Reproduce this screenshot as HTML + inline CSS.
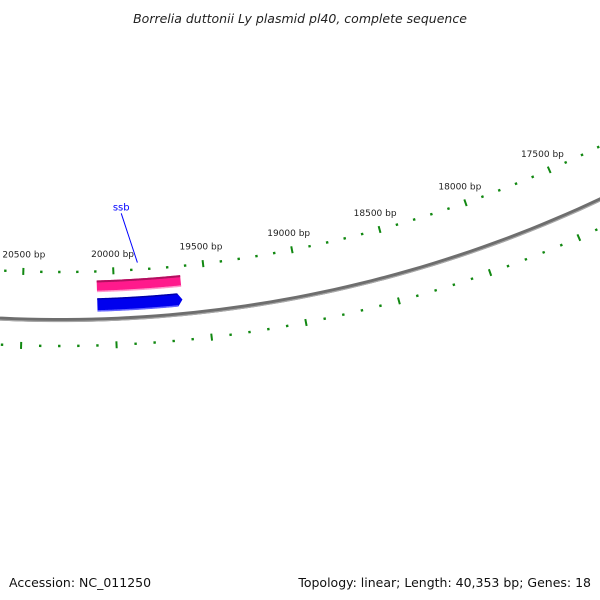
<!DOCTYPE html>
<html><head><meta charset="utf-8"><style>
body{margin:0;background:#fff}
svg{display:block}
text{font-family:"DejaVu Sans","Liberation Sans",sans-serif}
</style></head><body>
<svg id="map" width="600" height="600" viewBox="0 0 600 600" xmlns="http://www.w3.org/2000/svg">
<text x="300" y="23" text-anchor="middle" font-size="12.5" font-style="italic" fill="#222">Borrelia duttonii Ly plasmid pl40, complete sequence</text>
<g id="ticks"></g>
<g id="backbone"></g>
<g id="genes"></g>
<text x="9" y="587" font-size="12.5" fill="#111">Accession: NC_011250</text>
<text x="591" y="587" text-anchor="end" font-size="12.5" fill="#111">Topology: linear; Length: 40,353 bp; Genes: 18</text>
</svg>
<script>
const majorTicks=[21000,20500,20000,19500,19000,18500,18000,17500,17000];
const majorLabels=["21000 bp","20500 bp","20000 bp","19500 bp","19000 bp","18500 bp","18000 bp","17500 bp","17000 bp"];
const geneNames=["ssb"];
const geneStarts=[19633];
const geneEnds=[20094];
const NS="http://www.w3.org/2000/svg";
const cx=60,cy=-950;
function ang(bp){return (2.5+(20000-bp)*0.00844)*Math.PI/180;}
function pt(bp,r){const a=ang(bp);return [cx+r*Math.sin(a),cy+r*Math.cos(a)];}
function mk(tag,attrs,parent){const e=document.createElementNS(NS,tag);for(const k in attrs)e.setAttribute(k,attrs[k]);parent.appendChild(e);return e;}
const tg=document.getElementById('ticks');
for(let bp=21300;bp>=16800;bp-=100){
  const major=bp%500===0;
  [[1222,'outer'],[1296,'inner']].forEach(([r,ring])=>{
    const h=major?3.5:1.2;
    const a=pt(bp,r-h),b=pt(bp,r+h);
    const l=mk('line',{x1:a[0],y1:a[1],x2:b[0],y2:b[1],stroke:'#118811','stroke-width':major?2:2.4},tg);
    
    
  });
}
majorTicks.forEach((bp,i)=>{
  const p=pt(bp,1205);
  const t=mk('text',{x:p[0],y:p[1]+3,'text-anchor':'middle','font-size':'9',fill:'#222'},tg);
  t.textContent=majorLabels[i];
  
  
});
// backbone
const bb=document.getElementById('backbone');
function arcPath(b0,b1,r){let d='';for(let s=0;s<=80;s++){const bp=b0+(b1-b0)*s/80;const p=pt(bp,r);d+=(s?'L':'M')+p[0].toFixed(2)+' '+p[1].toFixed(2);}return d;}
let p1=mk('path',{d:arcPath(21500,16000,1270),fill:'none',stroke:'#6e6e6e','stroke-width':4},bb);


let p2=mk('path',{d:arcPath(21500,16000,1271.5),fill:'none',stroke:'#a8a8a8','stroke-width':1.2},bb);


// genes
const gg=document.getElementById('genes');
function band(b0,b1,r0,r1,tip){let pts=[];for(let s=0;s<=30;s++){pts.push(pt(b0+(b1-b0)*s/30,r0));}
 if(tip){const t=pt(b1-tip,(r0+r1)/2);pts.push(t);}
 for(let s=30;s>=0;s--){pts.push(pt(b0+(b1-b0)*s/30,r1));}
 return pts.map(p=>p[0].toFixed(2)+','+p[1].toFixed(2)).join(' ');}
geneNames.forEach((n,i)=>{
  const s=geneStarts[i],e=geneEnds[i];
  let a=mk('polygon',{points:band(e,s,1231,1242,0),fill:'#ff1a8c'},gg);
  
  
  let a2=mk('path',{d:arcPath(e,s,1232),fill:'none',stroke:'#b0105f','stroke-width':2},gg);
  
  
  let a3=mk('path',{d:arcPath(e,s,1242),fill:'none',stroke:'#ff99cc','stroke-width':1.5},gg);
  
  
  let b=mk('polygon',{points:band(e,s+25,1249,1262,25),fill:'#0000ee'},gg);
  
  
  let b2=mk('path',{d:arcPath(e,s+25,1249.5),fill:'none',stroke:'#0000aa','stroke-width':1.5},gg);
  
  
  let b3=mk('path',{d:arcPath(e,s+25,1261.5),fill:'none',stroke:'#6666ff','stroke-width':1.5},gg);
  
  
  const mid=(s+e)/2;
  const q0=pt(mid,1215),q1=pt(mid+70,1165);
  let l=mk('line',{x1:q0[0],y1:q0[1],x2:q1[0]-1,y2:q1[1],stroke:'#0000ff','stroke-width':1},gg);
  
  
  let t=mk('text',{x:q1[0]-1,y:q1[1]-3,'text-anchor':'middle','font-size':'10',fill:'#0000ff'},gg);
  t.textContent=n;
  
  
});
</script>
</body></html>
